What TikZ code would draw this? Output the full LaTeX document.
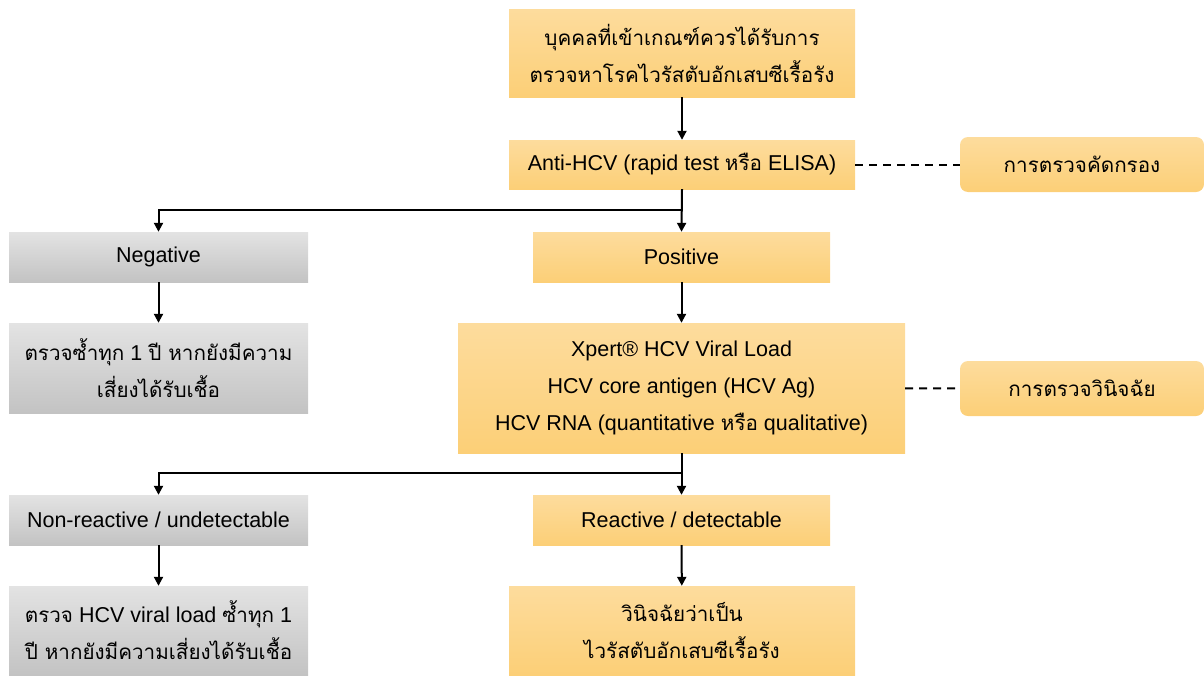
\documentclass[tikz,border=0pt]{standalone}
\usepackage{fontspec}
\setmainfont{Liberation Sans}
\newfontfamily\thaifont[Script=Thai,Scale=0.96]{Loma}
\usetikzlibrary{arrows.meta}
\definecolor{otop}{HTML}{FDDC9D}
\definecolor{obot}{HTML}{FCCF77}
\definecolor{gtop}{HTML}{E3E3E3}
\definecolor{gbot}{HTML}{C3C3C3}
\newcommand{\thaitxt}[1]{{\thaifont #1}}

\begin{document}
\begin{tikzpicture}[
  x=1pt,y=-1pt,
  font=\fontsize{21.5}{37}\selectfont,
  obox/.style={top color=otop,bottom color=obot,inner sep=0pt,align=center},
  gbox/.style={top color=gtop,bottom color=gbot,inner sep=0pt,align=center},
  tag/.style={obox,rounded corners=8pt,minimum width=244pt,minimum height=55pt},
  arr/.style={-{Triangle[length=9pt,width=9pt]},line width=2pt},
  lnk/.style={dashed,dash pattern=on 8pt off 6pt,line width=2pt}]
  \useasboundingbox (0,0) rectangle (1204,675);
  % main column
  \node[obox,minimum width=346pt,minimum height=88pt] (who) at (682,53)
    {\thaitxt{บุคคลที่เข้าเกณฑ์ควรได้รับการ}\\\thaitxt{ตรวจหาโรคไวรัสตับอักเสบซีเรื้อรัง}};
  \node[obox,minimum width=346pt,minimum height=49pt] (anti) at (682,164.5)
    {Anti-HCV (rapid test \thaitxt{หรือ} ELISA)};
  \node[obox,minimum width=297pt,minimum height=50pt] (pos) at (681.5,257) {Positive};
  \node[obox,minimum width=447pt,minimum height=130pt] (diag) at (681.5,388)
    {Xpert® HCV Viral Load\\HCV core antigen (HCV Ag)\\HCV RNA (quantitative \thaitxt{หรือ} qualitative)};
  \node[obox,minimum width=297pt,minimum height=50pt] (react) at (681.5,520) {Reactive / detectable};
  \node[obox,minimum width=346pt,minimum height=89pt] (chronic) at (682,630.5)
    {\thaitxt{วินิจฉัยว่าเป็น}\\\thaitxt{ไวรัสตับอักเสบซีเรื้อรัง}};
  % left column
  \node[gbox,minimum width=299pt,minimum height=50pt] (neg) at (158.5,257) {Negative};
  \node[gbox,minimum width=299pt,minimum height=90pt] (recheck) at (158.5,368)
    {\thaitxt{ตรวจซ้ำทุก} 1 \thaitxt{ปี หากยังมีความ}\\\thaitxt{เสี่ยงได้รับเชื้อ}};
  \node[gbox,minimum width=299pt,minimum height=50pt] (nonreact) at (158.5,520) {Non-reactive / undetectable};
  \node[gbox,minimum width=299pt,minimum height=89pt] (vlcheck) at (158.5,630.5)
    {\thaitxt{ตรวจ} HCV viral load \thaitxt{ซ้ำทุก} 1\\\thaitxt{ปี หากยังมีความเสี่ยงได้รับเชื้อ}};
  % right tags
  \node[tag] (screen) at (1082,164.5) {\thaitxt{การตรวจคัดกรอง}};
  \node[tag] (confirm) at (1082,388.5) {\thaitxt{การตรวจวินิจฉัย}};
  % connectors
  \draw[arr] (who) -- (anti);
  \draw[arr] (anti.south) -- (pos.north);
  \draw[arr] (anti.south) -- ++(0,21) -| (neg.north);
  \draw[arr] (pos) -- (diag);
  \draw[arr] (neg) -- (recheck);
  \draw[arr] (diag.south) -- (react.north);
  \draw[arr] (diag.south) -- ++(0,20) -| (nonreact.north);
  \draw[arr] (react) -- (chronic);
  \draw[arr] (nonreact) -- (vlcheck);
  \draw[lnk] (anti) -- (screen);
  \draw[lnk] (diag) -- (confirm);
\end{tikzpicture}
\end{document}
